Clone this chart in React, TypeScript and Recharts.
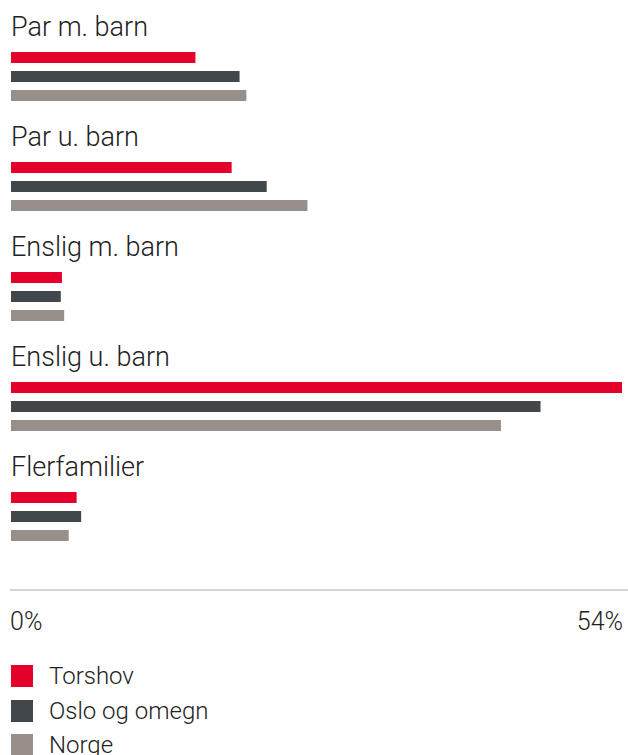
import { Bar, BarChart, Legend, XAxis, YAxis } from "recharts"

const categories = ["Par m. barn", "Par u. barn", "Enslig m. barn", "Enslig u. barn", "Flerfamilier"]
const torshov = [16.3, 19.5, 4.5, 54, 5.8]
const osloOgOmegn = [20.2, 22.6, 4.4, 46.8, 6.2]
const norge = [20.8, 26.2, 4.7, 43.3, 5.1]
const xTicks = [0, 54]

const series = [
  { key: "torshov", name: "Torshov", color: "#e4002b" },
  { key: "oslo", name: "Oslo og omegn", color: "#41474b" },
  { key: "norge", name: "Norge", color: "#968f8a" },
]

const data = categories.map((name, i) => ({
  name,
  torshov: torshov[i],
  oslo: osloOgOmegn[i],
  norge: norge[i],
}))

const font = "Roboto, 'Noto Sans', sans-serif"
const textColor = "#222"

function CategoryTick({ x, y, payload }: any) {
  return (
    <text x={x + 1} y={y - 40} textAnchor="start" fill={textColor} fontSize={27} fontWeight={300} fontFamily={font}>
      {payload.value}
    </text>
  )
}

function ValueTick({ x, y, payload }: any) {
  const last = payload.value === xTicks[xTicks.length - 1]
  return (
    <text
      x={last ? x + 3 : x - 1}
      y={y + 40}
      textAnchor={last ? "end" : "start"}
      fill={textColor}
      fontSize={25}
      fontWeight={300}
      fontFamily={font}
    >
      {payload.value}%
    </text>
  )
}

function LegendList() {
  return (
    <div style={{ paddingTop: 10, paddingLeft: 11, fontFamily: font }}>
      {series.map((s) => (
        <div key={s.key} style={{ display: "flex", alignItems: "center", height: 22, marginBottom: 12.5 }}>
          <div style={{ width: 22, height: 22, background: s.color }} />
          <span style={{ marginLeft: 16, fontSize: 24, fontWeight: 300, color: textColor, whiteSpace: "nowrap" }}>
            {s.name}
          </span>
        </div>
      ))}
    </div>
  )
}

export default function App() {
  return (
    <div style={{ position: "absolute", left: 0, top: 0, width: 628, height: 755, overflow: "hidden", background: "#fff" }}>
      <BarChart
        width={628}
        height={755}
        data={data}
        layout="vertical"
        margin={{ top: 21, right: 0, bottom: 0, left: 9 }}
        barSize={11}
        barGap={8}
      >
        <XAxis
          type="number"
          domain={[0, 54]}
          ticks={xTicks}
          padding={{ left: 1, right: 6 }}
          axisLine={{ stroke: "#a8a8a8", strokeWidth: 1 }}
          tickLine={false}
          tickSize={0}
          tickMargin={0}
          tick={<ValueTick />}
          height={65}
          allowDataOverflow
        />
        <YAxis
          type="category"
          dataKey="name"
          width={1}
          axisLine={false}
          tickLine={false}
          tickSize={0}
          tickMargin={0}
          padding={{ top: 0, bottom: 19 }}
          tick={<CategoryTick />}
          interval={0}
        />
        <Legend
          verticalAlign="bottom"
          align="left"
          layout="horizontal"
          content={<LegendList />}
          wrapperStyle={{ left: 0, bottom: 0, width: 628, height: 100 }}
        />
        {series.map((s) => (
          <Bar key={s.key} dataKey={s.key} name={s.name} fill={s.color} isAnimationActive={false} />
        ))}
      </BarChart>
    </div>
  )
}
